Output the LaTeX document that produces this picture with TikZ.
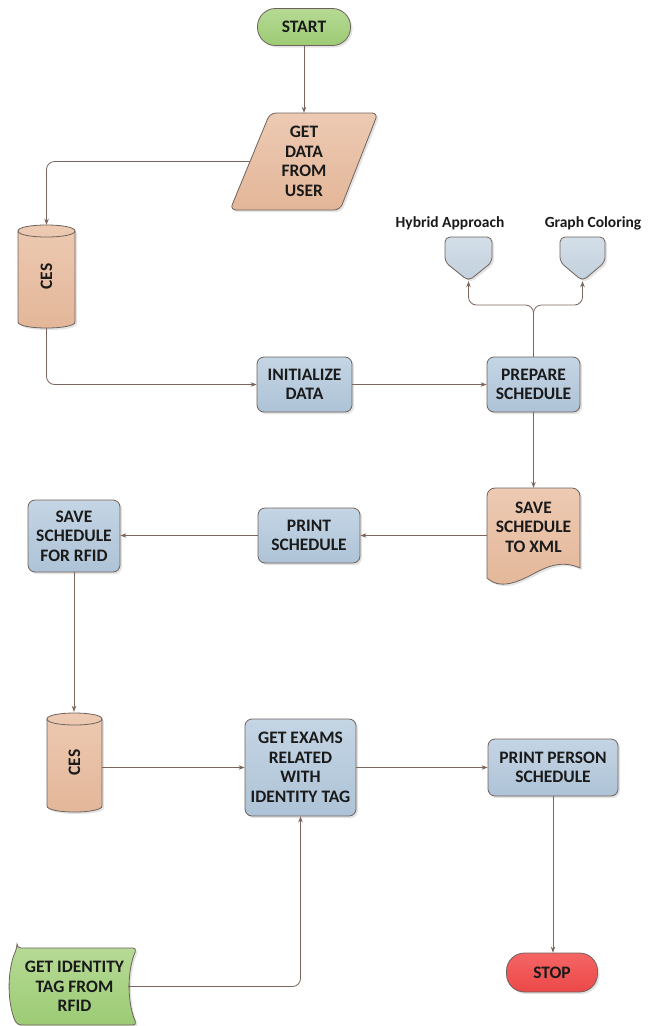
\documentclass[tikz,border=0pt]{standalone}
\usepackage{fontspec}
\setmainfont{Carlito}
\usetikzlibrary{arrows.meta,shadows,calc}

\definecolor{edge}{HTML}{6E625C}
\definecolor{wire}{HTML}{7B665C}
\definecolor{blueT}{HTML}{C4D5E4}
\definecolor{blueB}{HTML}{AEC3D7}
\definecolor{paleT}{HTML}{D3DEE8}
\definecolor{paleB}{HTML}{C2D1DE}
\definecolor{salmonT}{HTML}{EDCAB3}
\definecolor{salmonB}{HTML}{E3B698}
\definecolor{greenT}{HTML}{B6DA95}
\definecolor{greenB}{HTML}{9CCB74}
\definecolor{redT}{HTML}{F56565}
\definecolor{redB}{HTML}{EC4848}
\definecolor{ink}{HTML}{1A1A1A}

\newcommand\boxfont{\fontsize{17.5}{19.5}\selectfont\bfseries}
\newcommand\tagfont{\fontsize{15.5}{18}\selectfont\bfseries}

\tikzset{
  x=1pt, y=-1pt,
  shadowed/.style={drop shadow={opacity=0.22, shadow xshift=2pt, shadow yshift=-2pt}},
  outline/.style={draw=edge, line width=0.8pt},
  bluefill/.style={top color=blueT, bottom color=blueB},
  palefill/.style={top color=paleT, bottom color=paleB},
  salmonfill/.style={top color=salmonT, bottom color=salmonB},
  greenfill/.style={top color=greenT, bottom color=greenB},
  redfill/.style={top color=redT, bottom color=redB},
  txt/.style={align=center, font=\boxfont, text=ink, inner sep=0pt},
  procbox/.style={txt, outline, bluefill, shadowed, rounded corners=7pt},
  terminal/.style={txt, outline, shadowed, rounded corners=18pt},
  shapeline/.style={outline, shadowed},
  wire/.style={draw=wire, line width=0.8pt, -{Stealth[length=6pt,width=4.5pt]}},
  tagtext/.style={font=\tagfont, text=ink, inner sep=0pt},
}

\begin{document}
\begin{tikzpicture}
\useasboundingbox (0,0) rectangle (662,1026);

% ---- drawn outlines of the special shapes ----
% input parallelogram
\draw[shapeline, salmonfill, rounded corners=6pt]
  (270,113) -- (378,113) -- (340,210) -- (230,210) -- cycle;
% first store (cylinder)
\draw[shapeline, salmonfill]
  (18,231) -- (18,322) .. controls (18,330) and (75,330) .. (75,322)
  -- (75,231) .. controls (75,223) and (18,223) .. cycle;
\draw[outline] (18,231) .. controls (18,239) and (75,239) .. (75,231);
% second store (cylinder)
\draw[shapeline, salmonfill]
  (47,719) -- (47,806) .. controls (47,814) and (102,814) .. (102,806)
  -- (102,719) .. controls (102,711) and (47,711) .. cycle;
\draw[outline] (47,719) .. controls (47,727) and (102,727) .. (102,719);
% off-page connectors
\draw[shapeline, palefill, rounded corners=5pt]
  (445,237) -- (492,237) -- (492,262) -- (468.5,281) -- (445,262) -- cycle;
\draw[shapeline, palefill, rounded corners=5pt]
  (560,237) -- (605,237) -- (605,262) -- (582.5,281) -- (560,262) -- cycle;
% document
\draw[shapeline, salmonfill]
  (487,578) [rounded corners=8pt]-- (487,488) -- (580,488) [sharp corners]-- (580,568)
  .. controls (562,560) and (548,566) .. (533,574)
  .. controls (518,582) and (500,590) .. (487,578) -- cycle;
% punched tape
\draw[shapeline, greenfill, rounded corners=4pt]
  (17,948) -- (137,948) .. controls (127,970) and (127,1003) .. (137,1025)
  -- (17,1025) .. controls (7,1003) and (7,970) .. cycle;

% ---- nodes ----
\node[terminal, greenfill, minimum width=93pt, minimum height=37pt] (start) at (304,27) {START};
\node[txt, minimum width=108pt, minimum height=97pt] (getdata) at (304,161.5) {GET\\DATA\\FROM\\USER};
\node[txt, minimum width=57pt, minimum height=103pt] (ces1) at (46.5,276.5) {\rotatebox{90}{CES}};
\node[procbox, minimum width=95pt, minimum height=55pt] (init) at (304.5,384.5) {INITIALIZE\\DATA};
\node[procbox, minimum width=93pt, minimum height=55pt] (prep) at (533.5,384.5) {PREPARE\\SCHEDULE};
\node[txt, minimum width=47pt, minimum height=44pt] (hyb) at (468.5,259) {};
\node[txt, minimum width=45pt, minimum height=44pt] (graph) at (582.5,259) {};
\node[tagtext] (hyblabel) at (450,223) {Hybrid Approach};
\node[tagtext] (graphlabel) at (593,223) {Graph Coloring};
\node[txt, minimum width=93pt, minimum height=95pt] (doc) at (533.5,535.5) {};
\node[txt] (doctext) at (533.5,527) {SAVE\\SCHEDULE\\TO XML};
\node[procbox, minimum width=102pt, minimum height=55pt] (print) at (309,535.5) {PRINT\\SCHEDULE};
\node[procbox, minimum width=92pt, minimum height=72pt] (rfid) at (74,536) {SAVE\\SCHEDULE\\FOR RFID};
\node[txt, minimum width=55pt, minimum height=101pt] (ces2) at (74.5,762.5) {\rotatebox{90}{CES}};
\node[procbox, minimum width=111pt, minimum height=97pt] (exams) at (300.5,767.5) {GET EXAMS\\RELATED\\WITH\\IDENTITY TAG};
\node[procbox, minimum width=130pt, minimum height=57pt] (person) at (553,767.5) {PRINT PERSON\\SCHEDULE};
\node[terminal, redfill, minimum width=91pt, minimum height=39pt] (stop) at (552,972.5) {STOP};
\node[txt, minimum width=107pt, minimum height=77pt] (tape) at (74.5,986.5) {GET IDENTITY\\TAG FROM\\RFID};
\coordinate (fork) at (533.5,305);

% ---- connectors ----
\draw[wire] (start) -- (getdata.north);
\draw[wire, rounded corners=8pt] (getdata.west) -| (ces1.north);
\draw[wire, rounded corners=8pt] (ces1.south) |- (init.west);
\draw[wire] (init) -- (prep);
\draw[wire, rounded corners=8pt] (prep.north) -- (fork) -| (hyb.south);
\draw[wire, rounded corners=8pt] (prep.north) -- (fork) -| (graph.south);
\draw[wire] (prep) -- (doc.north);
\draw[wire] (doc.west |- print.east) -- (print.east);
\draw[wire] (print.west) -- (print.west -| rfid.east);
\draw[wire] (rfid.south) -- (rfid.south |- ces2.north);
\draw[wire] (ces2.east |- exams.west) -- (exams.west);
\draw[wire] (exams.east) -- (person.west);
\draw[wire] (person.south) -- (person.south |- stop.north);
\draw[wire, rounded corners=8pt] (tape.east) -| (exams.south);
\end{tikzpicture}
\end{document}
